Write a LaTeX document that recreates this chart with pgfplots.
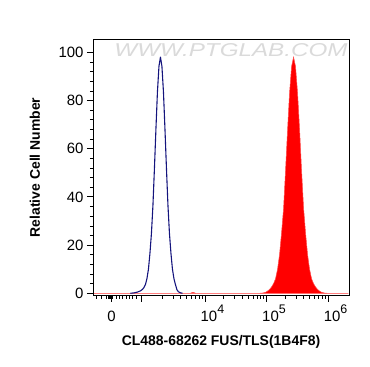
\documentclass[border=0pt]{standalone}
\usepackage{fontspec}
\setmainfont{Liberation Sans}
\usepackage{pgfplots}
\pgfplotsset{compat=1.18}
\usepackage{graphicx}
\definecolor{navyline}{RGB}{20,20,125}
\definecolor{wmgray}{RGB}{218,218,218}
\newcommand\sups[1]{\raisebox{7.5bp}{\fontsize{12.5}{12.5}\selectfont #1}}
\begin{document}
\begin{tikzpicture}
\path[use as bounding box] (-93bp,-71.3bp) rectangle (277bp,295.7bp);
\begin{axis}[
  at={(0,0)}, anchor=south west,
  scale only axis, width=256bp, height=256.7bp,
  xmin=2.18, xmax=6.34, ymin=-1, ymax=105.5,
  axis line style={black, line width=0.7pt},
  tick pos=left, tick align=outside,
  major tick length=6bp, minor tick length=3bp,
  every major tick/.style={black, line width=0.9pt},
  every minor tick/.style={black, line width=0.6pt},
  xtick={2.483,2.975,4,5,6},
  xticklabels={{\vphantom{1\sups{4}}0},{},{\hspace*{8bp}10\rlap{\sups{4}}},{\hspace*{8bp}10\rlap{\sups{5}}},{\hspace*{8bp}10\rlap{\sups{6}}}},
  minor xtick={2.239,2.320,2.390,2.423,2.439,2.455,2.496,2.553,2.607,2.662,2.715,2.769,2.824,2.889,
    3.301,3.477,3.602,3.699,3.778,3.845,3.903,3.954,
    4.301,4.477,4.602,4.699,4.778,4.845,4.903,4.954,
    5.301,5.477,5.602,5.699,5.778,5.845,5.903,5.954},
  ytick={0,20,40,60,80,100},
  minor y tick num=4,
  tick label style={font=\fontsize{15}{15}\selectfont},
  /pgf/number format/assume math mode=true,
  xlabel={CL488-68262 FUS/TLS(1B4F8)},
  ylabel={Relative Cell Number},
  label style={font=\bfseries\fontsize{14}{14}\selectfont},
  xlabel style={at={(axis description cs:0.5,-0.179)}, anchor=center},
  ylabel style={at={(axis description cs:-0.2266,0.5)}, anchor=center},
  clip=true,
]
\node[text=wmgray, font=\itshape] at (axis description cs:0.539,0.957)
  {\resizebox{233bp}{13bp}{WWW.PTGLAB.COM}};
\addplot[draw=red!70!white, fill=red, line width=0.5pt] coordinates {
(2.20,0) (3.76,0) (3.805,0.4) (3.85,0) (4.886,0) (4.935,0.1) (4.984,0.4) (5.016,0.9)
(5.049,1.6) (5.081,2.6) (5.114,4) (5.146,6) (5.179,10) (5.211,16) (5.244,25)
(5.277,35.3) (5.309,51) (5.342,67.9) (5.374,83.2) (5.407,94.1) (5.439,98)
(5.471,94.1) (5.504,83.2) (5.537,67.9) (5.569,51) (5.602,35.3) (5.634,25)
(5.667,16) (5.699,10) (5.732,6) (5.764,4) (5.797,2.6) (5.829,1.6) (5.862,0.9)
(5.894,0.4) (5.943,0.1) (5.992,0) (6.33,0)
} \closedcycle;
\addplot[draw=navyline, line width=1.1pt, line join=round] coordinates {
(2.788,0) (2.853,0.2) (2.902,0.5) (2.951,1.0) (2.983,1.6) (3.008,2.4) (3.032,3.6)
(3.056,6) (3.081,10) (3.105,16.5) (3.130,25) (3.154,36.5) (3.178,51.6) (3.203,68.4)
(3.227,83.5) (3.252,94.2) (3.276,98) (3.300,94.2) (3.325,83.5) (3.349,68.4)
(3.374,51.6) (3.398,36.5) (3.422,25) (3.447,16.5) (3.471,10) (3.496,6) (3.520,3.6)
(3.544,1.5) (3.569,0.6) (3.601,0.2) (3.634,0)
};
\end{axis}
\end{tikzpicture}
\end{document}
